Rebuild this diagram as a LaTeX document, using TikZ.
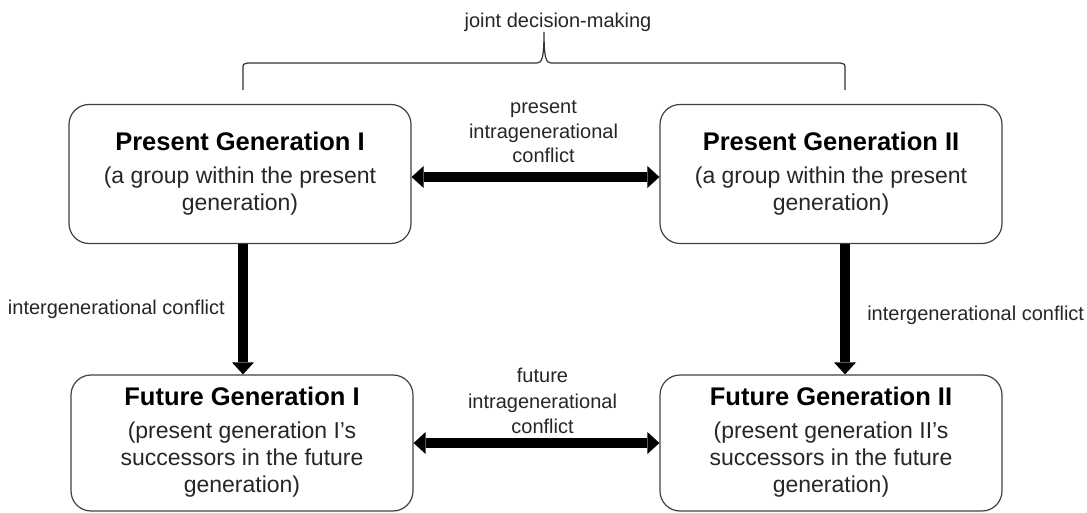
\documentclass[tikz,border=0pt]{standalone}
\usepackage{fontspec}
\setmainfont{Liberation Sans}
\usetikzlibrary{arrows.meta}

\begin{document}
\begin{tikzpicture}[x=1pt,y=-1pt,
  gen/.style={draw=black!75, line width=1.2pt, rounded corners=20pt, minimum width=342pt,
    align=center, text=black!85, font=\fontsize{23}{27}\selectfont, inner sep=0pt},
  conflict/.style={line width=10.5pt, >={Triangle[width=22pt,length=12pt,line width=0pt]}},
  lbl/.style={font=\fontsize{20}{24.5}\selectfont, align=center, text=black!85, inner sep=0pt},
  brace/.style={draw=black!80, line width=1.2pt}]
\def\head#1{{\fontsize{25.5}{30}\selectfont\bfseries\color{black} #1}\\[6pt]}
\useasboundingbox (0,0) rectangle (1087,513);

% the four groups
\node[gen, minimum height=139pt] (pgI) at (240,174) {\head{Present Generation I}(a group within the present\\generation)};
\node[gen, minimum height=139pt] (pgII) at (831,174) {\head{Present Generation II}(a group within the present\\generation)};
\node[gen, minimum height=136pt, text depth=6pt] (fgI) at (242,443) {\head{Future Generation I}(present generation I’s\\successors in the future\\generation)};
\node[gen, minimum height=136pt, text depth=6pt] (fgII) at (831,443) {\head{Future Generation II}(present generation II’s\\successors in the future\\generation)};

% brace over the present generation
\coordinate (jl) at (243,90);
\coordinate (jr) at (845,90);
\coordinate (jt) at (544,32);
\draw[brace] (jl) -- (243,69) .. controls (243,64) .. (248,63) -- (537,63)
  .. controls (542,63) and (544,58) .. (jt) .. controls (544,58) and (546,63) .. (551,63)
  -- (840,63) .. controls (845,64) .. (845,69) -- (jr);
\node[lbl, anchor=south, xshift=14pt] (joint) at (jt) {joint decision-making};

% conflicts
\draw[conflict,<->] ([yshift=-3pt]pgI.east) -- ([yshift=-3pt]pgII.west)
  node[lbl, midway, above=9pt, xshift=8pt] (pic) {present\\intragenerational\\conflict};
\draw[conflict,<->] (fgI.east) -- (fgII.west)
  node[lbl, midway, above=4pt, xshift=6pt, font=\fontsize{20}{25.5}\selectfont] (fic) {future\\intragenerational\\conflict};
\draw[conflict,->] (jl |- pgI.south) -- (jl |- fgI.north)
  node[lbl, midway, left=13pt] (igI) {intergenerational conflict};
\draw[conflict,->] (jr |- pgII.south) -- (jr |- fgII.north)
  node[lbl, pos=0.55, right=17pt] (igII) {intergenerational conflict};

\end{tikzpicture}
\end{document}
